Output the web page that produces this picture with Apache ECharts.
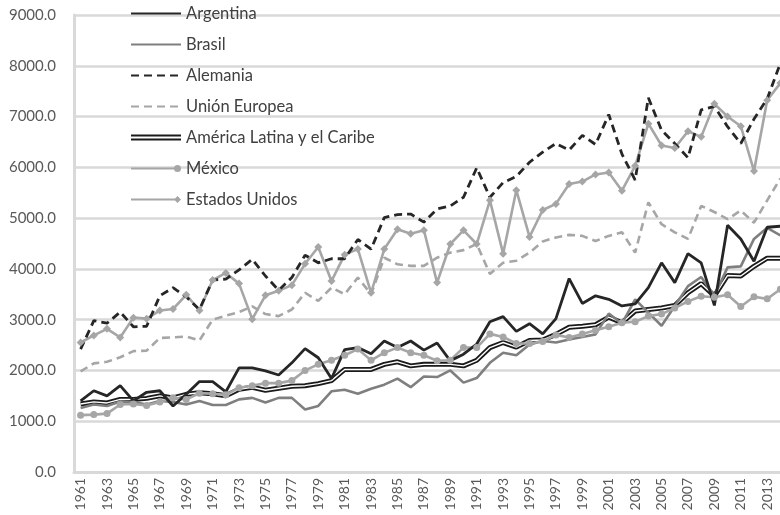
<!DOCTYPE html>
<html>
<head>
<meta charset="utf-8">
<script src="https://cdn.jsdelivr.net/npm/echarts@6/dist/echarts.min.js"></script>
<style>
html, body { margin: 0; padding: 0; background: #fff; }
#chart { width: 780px; height: 515px; }
</style>
</head>
<body>
<div id="chart"></div>
<script>
const years = [];
for (let y = 1961; y <= 2014; y++) years.push(String(y));

const argentina = [1400, 1600, 1500, 1700, 1400, 1570, 1600, 1300, 1530, 1780,
	1780, 1580, 2050, 2050, 1990, 1910, 2150, 2430, 2250, 1840,
	2410, 2450, 2330, 2580, 2450, 2580, 2400, 2540, 2190, 2320,
	2520, 2960, 3060, 2770, 2920, 2720, 3020, 3810, 3320, 3470,
	3400, 3270, 3310, 3630, 4120, 3730, 4300, 4120, 3280, 4860,
	4590, 4150, 4820, 4840];
const brasil = [1260, 1330, 1300, 1390, 1380, 1330, 1400, 1380, 1330, 1400,
	1320, 1320, 1430, 1460, 1370, 1460, 1460, 1230, 1300, 1590,
	1620, 1540, 1640, 1720, 1840, 1670, 1880, 1870, 2000, 1760,
	1850, 2150, 2350, 2300, 2510, 2580, 2550, 2610, 2660, 2710,
	3120, 2920, 3400, 3140, 2880, 3270, 3660, 3840, 3470, 4030,
	4050, 4590, 4810, 4660];
const alemania = [2420, 2980, 2930, 3150, 2860, 2870, 3470, 3630, 3450, 3200,
	3780, 3800, 3980, 4190, 3860, 3580, 3830, 4270, 4120, 4200,
	4200, 4580, 4390, 5010, 5070, 5080, 4920, 5180, 5240, 5410,
	5990, 5410, 5700, 5820, 6100, 6300, 6470, 6340, 6630, 6450,
	7040, 6260, 5750, 7370, 6730, 6470, 6190, 7130, 7200, 6800,
	6470, 6950, 7350, 8050];
const unionEuropea = [1980, 2140, 2170, 2260, 2380, 2390, 2640, 2650, 2670, 2590,
	3000, 3080, 3150, 3260, 3110, 3070, 3200, 3530, 3370, 3630,
	3500, 3830, 3500, 4220, 4090, 4060, 4060, 4220, 4320, 4370,
	4490, 3900, 4120, 4160, 4320, 4540, 4620, 4670, 4650, 4550,
	4650, 4720, 4320, 5310, 4880, 4720, 4590, 5240, 5120, 4980,
	5150, 4910, 5350, 5780];
const americaLatina = [1340, 1380, 1360, 1430, 1430, 1450, 1500, 1460, 1530, 1560,
	1540, 1500, 1630, 1670, 1610, 1650, 1690, 1700, 1740, 1800,
	2020, 2020, 2020, 2120, 2170, 2090, 2120, 2120, 2120, 2090,
	2200, 2450, 2550, 2460, 2590, 2600, 2710, 2850, 2870, 2900,
	3050, 2940, 3170, 3200, 3230, 3280, 3530, 3710, 3470, 3870,
	3860, 4050, 4210, 4210];
const mexico = [1120, 1130, 1150, 1330, 1340, 1310, 1380, 1460, 1430, 1550,
	1540, 1520, 1660, 1700, 1750, 1750, 1800, 2000, 2120, 2200,
	2300, 2420, 2200, 2350, 2450, 2350, 2300, 2190, 2200, 2450,
	2450, 2720, 2660, 2530, 2530, 2570, 2700, 2650, 2720, 2790,
	2860, 2940, 2960, 3070, 3110, 3230, 3360, 3460, 3440, 3490,
	3260, 3450, 3410, 3600];
const estadosUnidos = [2550, 2690, 2820, 2650, 3040, 3020, 3180, 3210, 3490, 3180,
	3780, 3920, 3710, 3010, 3480, 3570, 3680, 4100, 4430, 3760,
	4280, 4390, 3530, 4390, 4780, 4690, 4760, 3730, 4490, 4760,
	4490, 5350, 4300, 5550, 4630, 5160, 5280, 5670, 5720, 5860,
	5900, 5540, 6030, 6860, 6430, 6380, 6710, 6600, 7250, 7000,
	6810, 5930, 7320, 7660];

const names = ['Argentina', 'Brasil', 'Alemania', 'Unión Europea',
	'América Latina y el Caribe', 'México', 'Estados Unidos'];

const chart = echarts.init(document.getElementById('chart'));

function lineSeries(name, data, color, extra) {
	return Object.assign({
		name: name,
		type: 'line',
		data: data,
		symbol: 'none',
		color: color,
		lineStyle: { color: color, width: 2.6 }
	}, extra || {});
}

const option = {
	animation: false,
	grid: {
		left: 74,
		right: -7,
		top: 15,
		bottom: 43,
		containLabel: false,
		outerBoundsMode: 'none'
	},
	legend: {
		orient: 'vertical',
		left: 130,
		top: 5,
		padding: 0,
		itemWidth: 50,
		itemHeight: 7,
		itemGap: 14,
		textStyle: { fontFamily: 'Lato', fontSize: 16.5, color: '#404040' },
		data: [
			{ name: names[0] },
			{ name: names[1] },
			{ name: names[2] },
			{ name: names[3] },
			{ name: names[4], icon: 'path://M0,0.6 H50 V2.6 H0 Z M0,4.4 H50 V6.4 H0 Z' },
			{ name: names[5], icon: 'path://M0,2.4 H44 V4.6 H0 Z M43,3.5 A3.5,3.5 0 1,1 50,3.5 A3.5,3.5 0 1,1 43,3.5 Z' },
			{ name: names[6], icon: 'path://M0,2.4 H45 V4.6 H0 Z M46.5,0 L50,3.5 L46.5,7 L43,3.5 Z' }
		]
	},
	xAxis: {
		type: 'category',
		data: years,
		boundaryGap: true,
		axisTick: { show: false },
		axisLine: { lineStyle: { color: '#d9d9d9', width: 3 } },
		axisLabel: {
			interval: 1,
			rotate: 90,
			margin: 6,
			fontFamily: 'Lato',
			fontSize: 14,
			color: '#595959'
		}
	},
	yAxis: {
		type: 'value',
		min: 0,
		max: 9000,
		interval: 1000,
		axisTick: { show: false },
		axisLine: { show: true, lineStyle: { color: '#d9d9d9', width: 3 } },
		splitLine: { lineStyle: { color: '#d9d9d9', width: 2.5 } },
		axisLabel: {
			margin: 18,
			fontFamily: 'Lato',
			fontSize: 15,
			color: '#595959',
			formatter: function (v) { return v.toFixed(1); }
		}
	},
	series: [
		lineSeries(names[4], americaLatina, '#1a1a1a', {
			lineStyle: { color: '#1a1a1a', width: 5 }
		}),
		// línea blanca interior para el doble trazo
		lineSeries('alc-inner', americaLatina, '#ffffff', {
			silent: true,
			lineStyle: { color: '#ffffff', width: 1.4 }
		}),
		lineSeries(names[1], brasil, '#7f7f7f', {
			itemStyle: { opacity: 0 }
		}),
		lineSeries(names[3], unionEuropea, '#a6a6a6', {
			itemStyle: { opacity: 0 },
			lineStyle: { color: '#a6a6a6', width: 2.6, type: [8, 5] }
		}),
		lineSeries(names[5], mexico, '#a6a6a6', {
			symbol: 'circle',
			symbolSize: 7,
			showSymbol: true,
			itemStyle: { color: '#a6a6a6' }
		}),
		lineSeries(names[6], estadosUnidos, '#a6a6a6', {
			symbol: 'diamond',
			symbolSize: 8,
			showSymbol: true,
			itemStyle: { color: '#a6a6a6' }
		}),
		lineSeries(names[0], argentina, '#262626', {
			itemStyle: { opacity: 0 },
			lineStyle: { color: '#262626', width: 2.8 }
		}),
		lineSeries(names[2], alemania, '#262626', {
			itemStyle: { opacity: 0 },
			lineStyle: { color: '#262626', width: 2.8, type: [8, 5] }
		})
	]
};
chart.setOption(option);
</script>
</body>
</html>
